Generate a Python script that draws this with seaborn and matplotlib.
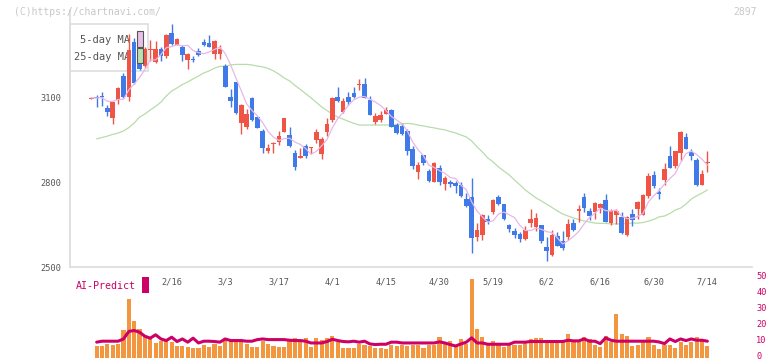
import numpy as np
import pandas as pd
import matplotlib
matplotlib.use("Agg")
import matplotlib.pyplot as plt
import matplotlib.transforms as mtrans
import seaborn as sns
from matplotlib.patches import Rectangle

sns.set_theme(style="white")
plt.rcParams["font.family"] = ["DejaVu Sans Mono"]

# ---------------- data ----------------
opens = [3095, 3100, 3104, 3062, 3028, 3092, 3174, 3100, 3295, 3220,
         3209, 3266, 3226, 3269, 3245, 3327, 3285, 3279, 3233, 3235,
         3264, 3295, 3293, 3252, 3253, 3211, 3102, 3153, 3010, 2996,
         3096, 3029, 2981, 2912, 2936, 2943, 2979, 2966, 2904, 2887,
         2929, 2922, 2949, 2900, 2979, 3020, 3101, 3049, 3101, 3115,
         3142, 3147, 3090, 3014, 3020, 3042, 3055, 3002, 2999, 2981,
         2917, 2837, 2896, 2841, 2801, 2850, 2794, 2801, 2799, 2790,
         2741, 2749, 2608, 2614, 2670, 2694, 2748, 2723, 2649, 2629,
         2618, 2600, 2655, 2641, 2649, 2571, 2543, 2610, 2594, 2606,
         2655, 2698, 2747, 2699, 2696, 2708, 2738, 2655, 2684, 2679,
         2614, 2687, 2705, 2685, 2752, 2826, 2767, 2808, 2893, 2858,
         2904, 2961, 2906, 2879, 2790, 2869]
highs = [3100, 3107, 3119, 3073, 3085, 3135, 3187, 3323, 3310, 3250,
         3276, 3302, 3300, 3276, 3325, 3359, 3310, 3286, 3256, 3246,
         3275, 3307, 3320, 3301, 3285, 3218, 3128, 3155, 3075, 3059,
         3100, 3031, 2988, 2935, 2943, 2981, 3028, 2994, 2914, 2920,
         2934, 2926, 2987, 2959, 3027, 3102, 3136, 3097, 3119, 3136,
         3165, 3168, 3105, 3046, 3052, 3065, 3059, 3010, 3009, 2987,
         2928, 2871, 2898, 2846, 2870, 2861, 2822, 2808, 2806, 2801,
         2761, 2814, 2655, 2687, 2685, 2740, 2755, 2725, 2653, 2638,
         2624, 2647, 2705, 2693, 2650, 2606, 2631, 2626, 2629, 2670,
         2669, 2720, 2763, 2710, 2732, 2728, 2759, 2705, 2705, 2695,
         2681, 2706, 2734, 2757, 2832, 2840, 2779, 2869, 2928, 2912,
         2981, 2975, 2918, 2887, 2843, 2910]
lows = [3093, 3065, 3069, 3034, 3007, 3076, 3098, 3087, 3148, 3195,
        3203, 3228, 3222, 3229, 3240, 3285, 3283, 3227, 3201, 3224,
        3246, 3280, 3276, 3234, 3234, 3135, 3067, 3042, 2970, 2987,
        3018, 2990, 2902, 2904, 2904, 2932, 2977, 2925, 2843, 2887,
        2887, 2900, 2938, 2883, 2963, 3014, 3082, 3044, 3074, 3099,
        3126, 3098, 3037, 3006, 3014, 3042, 2995, 2970, 2967, 2896,
        2847, 2812, 2861, 2800, 2800, 2791, 2773, 2785, 2761, 2749,
        2714, 2551, 2594, 2596, 2652, 2688, 2720, 2668, 2623, 2602,
        2588, 2598, 2643, 2629, 2585, 2523, 2541, 2574, 2561, 2596,
        2628, 2661, 2696, 2667, 2670, 2690, 2659, 2649, 2653, 2618,
        2610, 2646, 2670, 2683, 2743, 2781, 2741, 2790, 2851, 2852,
        2876, 2916, 2879, 2787, 2789, 2837]
closes = [3098, 3097, 3100, 3048, 3083, 3133, 3100, 3267, 3150, 3199,
          3272, 3270, 3269, 3244, 3321, 3288, 3305, 3249, 3253, 3231,
          3250, 3286, 3279, 3299, 3270, 3137, 3088, 3044, 3073, 3041,
          3020, 2993, 2922, 2922, 2938, 2963, 3026, 2929, 2855, 2894,
          2893, 2924, 2979, 2954, 3006, 3098, 3087, 3087, 3083, 3101,
          3144, 3099, 3039, 3034, 3038, 3055, 2996, 2975, 2970, 2910,
          2858, 2861, 2869, 2805, 2869, 2801, 2815, 2794, 2788, 2753,
          2716, 2604, 2632, 2685, 2661, 2738, 2722, 2670, 2635, 2613,
          2600, 2632, 2669, 2675, 2594, 2559, 2614, 2576, 2568, 2653,
          2632, 2705, 2708, 2681, 2728, 2723, 2661, 2699, 2700, 2620,
          2679, 2667, 2732, 2755, 2822, 2787, 2758, 2847, 2852, 2910,
          2978, 2918, 2893, 2790, 2829, 2872]
ma25 = [np.nan, 2953, 2958, 2963, 2969, 2974, 2981, 2993, 3009, 3030,
        3041, 3055, 3068, 3083, 3105, 3122, 3133, 3145, 3154, 3165,
        3175, 3186, 3193, 3203, 3209, 3210, 3214, 3216, 3216, 3216,
        3214, 3210, 3207, 3202, 3193, 3182, 3168, 3158, 3142, 3128,
        3113, 3098, 3082, 3066, 3053, 3041, 3030, 3023, 3015, 3008,
        3002, 3002, 3002, 3002, 3002, 3002, 3002, 3004, 3006, 3008,
        3006, 3002, 2999, 2995, 2992, 2988, 2985, 2979, 2974, 2967,
        2960, 2946, 2925, 2907, 2886, 2872, 2854, 2840, 2826, 2808,
        2791, 2773, 2759, 2745, 2734, 2723, 2711, 2699, 2688, 2681,
        2674, 2669, 2663, 2660, 2656, 2655, 2655, 2653, 2653, 2653,
        2655, 2656, 2656, 2658, 2663, 2669, 2678, 2681, 2690, 2702,
        2709, 2723, 2741, 2752, 2762, 2773]
volume = [0, 7.8, 7.8, 8.8, 8.2, 8.8, 17.8, 36.7, 22.9, 18.2,
          13.6, 12.8, 9.4, 10.9, 11.9, 10.1, 7.3, 7.8, 6.9, 6.3,
          6.3, 8.2, 6.9, 8.8, 7.5, 12.4, 11.3, 11.9, 10.5, 9.0,
          6.9, 6.9, 10.9, 8.8, 7.5, 6.9, 6.9, 11.9, 12.6, 10.3,
          12.4, 6.9, 12.6, 11.3, 12.4, 13.8, 10.3, 6.3, 6.3, 6.3,
          8.6, 8.2, 7.3, 6.1, 6.1, 5.7, 8.2, 7.3, 8.2, 7.3,
          8.2, 8.2, 6.3, 8.2, 8.2, 13.2, 8.8, 10.5, 7.3, 11.9,
          8.8, 49.5, 18.2, 13.2, 8.2, 10.5, 8.2, 6.9, 8.2, 8.2,
          8.2, 9.4, 11.9, 12.6, 12.6, 9.4, 9.4, 9.4, 11.1, 15.1,
          9.9, 9.9, 13.2, 11.7, 8.2, 6.9, 13.6, 9.9, 27.7, 15.1,
          14.0, 7.8, 8.2, 9.9, 13.2, 8.2, 5.7, 8.2, 8.2, 6.5,
          9.9, 8.2, 9.9, 13.2, 11.9, 7.8]
ai_predict = [np.nan, 9.9, 10.5, 10.5, 10.5, 10.5, 11.9, 16.6, 17.2, 16.1,
              13.6, 12.4, 14.5, 11.9, 10.9, 13.0, 10.3, 11.9, 9.9, 12.4,
              9.4, 10.5, 10.5, 10.3, 9.9, 11.9, 10.9, 10.9, 10.9, 10.5,
              10.5, 11.5, 11.9, 11.5, 11.5, 11.5, 11.5, 11.1, 10.9, 10.9,
              10.5, 9.4, 9.4, 9.4, 10.3, 11.7, 10.9, 10.3, 10.1, 10.5,
              9.9, 10.5, 8.8, 8.4, 8.6, 8.6, 9.9, 9.9, 9.4, 9.4,
              9.4, 9.4, 9.4, 9.4, 9.4, 10.1, 9.4, 8.4, 7.5, 8.8,
              9.9, 12.6, 9.4, 9.4, 8.6, 8.6, 8.6, 8.6, 8.6, 9.9,
              9.9, 9.9, 10.3, 10.3, 10.3, 10.3, 10.3, 10.3, 10.3, 11.1,
              10.7, 10.7, 11.9, 10.5, 10.5, 9.0, 12.6, 11.1, 10.5, 10.5,
              10.5, 10.5, 10.5, 10.5, 10.5, 10.5, 10.0, 9.0, 11.9, 10.3,
              11.9, 10.9, 11.9, 11.1, 11.1, 10.5]
date_labels = ["2/16", "3/3", "3/17", "4/1", "4/15", "4/30",
               "5/19", "6/2", "6/16", "6/30", "7/14"]
date_label_idx = [15, 25, 35, 45, 55, 65, 75, 85, 95, 105, 115]
price_ticks = [2500, 2800, 3100]
vol_ticks = [0, 10, 20, 30, 40, 50]

# ---------------- styling ----------------
RED = "#f05444"
BLUE = "#4079e8"
ORANGE = "#f2963f"
CRIMSON = "#cc0066"
PINK = "#e6b8ea"
GREEN = "#b8dcaa"
AXC = "#dedede"
TXT = "#555555"

W, H = 772, 361
fig = plt.figure(figsize=(W / 100, H / 100), dpi=100, facecolor="white")

def fx(px):
    return px / W

def fy(py):
    return 1 - py / H

df = pd.DataFrame({"open": opens, "high": highs, "low": lows, "close": closes,
                   "ma25": ma25, "volume": volume, "ai": ai_predict})
df["idx"] = np.arange(len(df))
df["ma5"] = df["close"].rolling(5, min_periods=1).mean()

XL = (-3.98, 123.33)

# ---------------- price panel ----------------
ax = fig.add_axes([fx(70), fy(267.3), fx(752) - fx(70), fy(10) - fy(267.3)])
ax.set_facecolor("none")
up = df["close"] >= df["open"]
cols = np.where(up, RED, BLUE)
body_bot = np.minimum(df["open"], df["close"])
body_h = np.maximum((df["close"] - df["open"]).abs(), 4)
ax.vlines(df["idx"], df["low"], df["high"], colors=cols, lw=1.0, zorder=3)
ax.bar(df["idx"], body_h, bottom=body_bot, width=0.85, color=cols, lw=0, zorder=4)

sns.lineplot(data=df, x="idx", y="ma5", ax=ax, color=PINK, lw=0.9, zorder=5)
sns.lineplot(data=df, x="idx", y="ma25", ax=ax, color=GREEN, lw=0.9, zorder=2)

ax.set_xlim(*XL)
ax.set_ylim(2500, 3408)
ax.set_xlabel("")
ax.set_ylabel("")
for s in ["top", "right"]:
    ax.spines[s].set_visible(False)
for s in ["left", "bottom"]:
    ax.spines[s].set_color(AXC)
    ax.spines[s].set_linewidth(1.3)

ax.set_yticks(price_ticks)
ax.set_yticklabels([str(v) for v in price_ticks])
ax.tick_params(axis="y", direction="inout", length=7.2, width=1.1, color=AXC,
               pad=2.4, labelsize=6.2, labelcolor=TXT)
ax.set_xticks(np.linspace(XL[0], XL[1], 12))
ax.set_xticklabels([])
ax.set_xticks(date_label_idx, minor=True)
ax.set_xticklabels(date_labels, minor=True)
ax.tick_params(axis="x", which="major", direction="inout", length=6, width=1.1, color=AXC)
ax.tick_params(axis="x", which="minor", length=0, pad=7.5, labelsize=6.2, labelcolor=TXT)

# legend box
ax.add_patch(Rectangle((fx(70), fy(71)), fx(148) - fx(70), fy(24) - fy(71),
                       transform=fig.transFigure, fill=False, edgecolor=AXC,
                       lw=1.2, clip_on=False, zorder=1))
ax.text(fx(130), fy(40), "5-day MA", transform=fig.transFigure, ha="right",
        va="center", fontsize=7.5, color=TXT, zorder=1.5)
ax.text(fx(130), fy(57.3), "25-day MA", transform=fig.transFigure, ha="right",
        va="center", fontsize=7.5, color=TXT, zorder=1.5)
ax.add_patch(Rectangle((fx(136.7), fy(46.7)), fx(142.7) - fx(136.7), fy(31) - fy(46.7),
                       transform=fig.transFigure, facecolor="#e8bfe8", edgecolor="#555555",
                       lw=0.8, clip_on=False, zorder=6))
ax.add_patch(Rectangle((fx(136.7), fy(63.3)), fx(142.7) - fx(136.7), fy(48.5) - fy(63.3),
                       transform=fig.transFigure, facecolor="#bde0b0", edgecolor="#555555",
                       lw=0.8, clip_on=False, zorder=6))

# ---------------- volume panel ----------------
axv = fig.add_axes([fx(70), fy(358), fx(752) - fx(70), fy(270) - fy(358)])
axv.set_facecolor("none")
sns.barplot(data=df, x="idx", y="volume", color=ORANGE, saturation=1,
            width=0.78, errorbar=None, ax=axv, zorder=2, linewidth=0)
sns.lineplot(x=df["idx"].to_numpy(), y=df["ai"].to_numpy(), ax=axv,
             color=CRIMSON, lw=2.2, zorder=3)
axv.set_xlim(*XL)
axv.set_ylim(0, 55.0)
axv.set_xlabel("")
axv.set_ylabel("")
for s in axv.spines.values():
    s.set_visible(False)
axv.set_xticks([])
axv.yaxis.tick_right()
axv.set_yticks(vol_ticks)
axv.set_yticklabels([str(v) for v in vol_ticks])
axv.tick_params(axis="y", length=0, pad=3, labelsize=6.2, labelcolor=CRIMSON)
shift = mtrans.ScaledTranslation(0, 2.5 / 100, fig.dpi_scale_trans)
for lab in axv.get_yticklabels():
    lab.set_transform(lab.get_transform() + shift)

# ---------------- texts ----------------
fig.text(fx(14), fy(12), "(C)https://chartnavi.com/", fontsize=7, color="#c8c8c8",
         va="center", ha="left")
fig.text(fx(757), fy(12), "2897", fontsize=7, color="#c8c8c8", va="center", ha="right")
fig.text(fx(76), fy(286), "AI-Predict", fontsize=7.2, color=CRIMSON, va="center", ha="left")
fig.add_artist(Rectangle((fx(142.3), fy(292.7)), fx(148.7) - fx(142.3), fy(277.3) - fy(292.7),
                         transform=fig.transFigure, color=CRIMSON, lw=0))

fig.savefig("out.png", dpi=100, facecolor="white")
